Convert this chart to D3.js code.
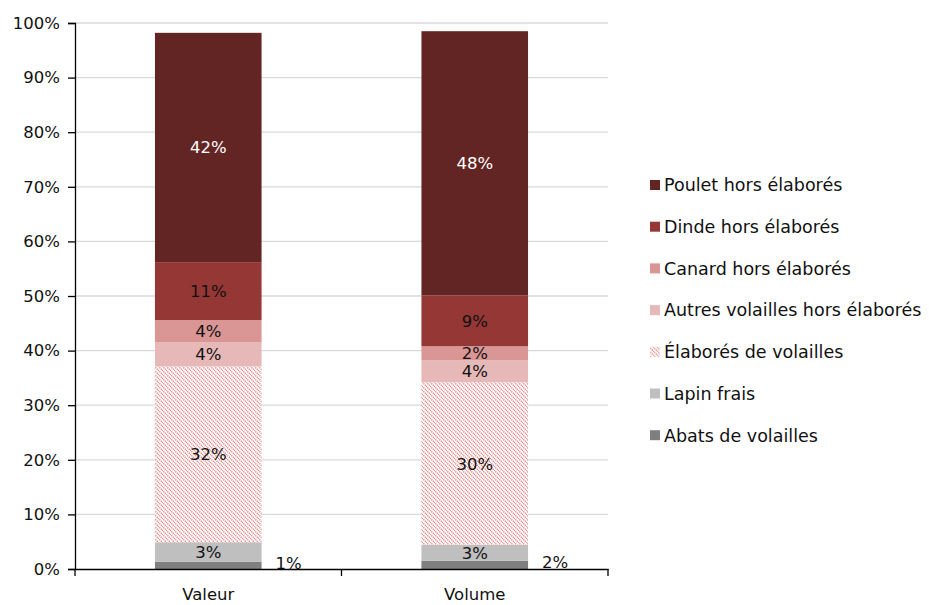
<!DOCTYPE html>
<html>
<head>
<meta charset="utf-8">
<script src="https://cdn.jsdelivr.net/npm/d3@7"></script>
<style>
  body { margin: 0; background: #fff; }
  text { font-family: "DejaVu Sans", sans-serif; }
</style>
</head>
<body>
<svg width="929" height="605"></svg>
<script>
const categories = ["Valeur", "Volume"]
const seriesNames = ["Abats de volailles", "Lapin frais", "Élaborés de volailles",
    "Autres volailles hors élaborés", "Canard hors élaborés", "Dinde hors élaborés", "Poulet hors élaborés"]
const valeur = [1.3, 3.6, 32.2, 4.4, 4.1, 10.6, 42.0]
const volume = [1.5, 2.9, 29.8, 4.0, 2.6, 9.3, 48.4]
const labelsValeur = ["1%", "3%", "32%", "4%", "4%", "11%", "42%"]
const labelsVolume = ["2%", "3%", "30%", "4%", "2%", "9%", "48%"]
const yTicks = [0, 10, 20, 30, 40, 50, 60, 70, 80, 90, 100]

const colors = ["#7f7f7f", "#bfbfbf", "url(#hatch)", "#e6b9b8", "#d99694", "#953735", "#632523"]

const svg = d3.select("svg")
const margin = {left: 75, right: 321, top: 23, bottom: 36}
const width = 929 - margin.left - margin.right
const height = 605 - margin.top - margin.bottom

// hatch pattern for "Élaborés"
const defs = svg.append("defs")
const pat = defs.append("pattern")
    .attr("id", "hatch")
    .attr("patternUnits", "userSpaceOnUse")
    .attr("width", 4).attr("height", 4)
pat.append("rect").attr("width", 4).attr("height", 4).attr("fill", "#fff")
pat.append("path")
    .attr("d", "M-1,-1 L5,5 M-1,3 L1,5 M3,-1 L5,1")
    .attr("stroke", "#e27c7c")
    .attr("stroke-width", 1.3)
    .attr("stroke-dasharray", "1.2,0.8")

const g = svg.append("g").attr("transform", `translate(${margin.left},${margin.top})`)

const x = d3.scaleBand().domain(categories).range([0, width]).paddingInner(0.6).paddingOuter(0.3)
const y = d3.scaleLinear().domain([0, 100]).range([height, 0])

// grid
g.append("g").selectAll("line")
    .data(yTicks.slice(1))
    .enter().append("line")
    .attr("x1", 0).attr("x2", width)
    .attr("y1", d => y(d)).attr("y2", d => y(d))
    .attr("stroke", "#d9d9d9").attr("stroke-width", 1.3)

const rows = categories.map((c, i) => {
    const vals = i === 0 ? valeur : volume
    const labs = i === 0 ? labelsValeur : labelsVolume
    let acc = 0
    return vals.map((v, k) => {
        const seg = {cat: c, k: k, y0: acc, y1: acc + v, label: labs[k]}
        acc += v
        return seg
    })
}).flat()

g.append("g").selectAll("rect")
    .data(rows)
    .enter().append("rect")
    .attr("x", d => x(d.cat))
    .attr("width", x.bandwidth())
    .attr("y", d => y(d.y1))
    .attr("height", d => y(d.y0) - y(d.y1))
    .attr("fill", d => colors[d.k])

g.append("g").selectAll("text")
    .data(rows)
    .enter().append("text")
    .attr("x", d => d.k === 0 ? x(d.cat) + x.bandwidth() + 27 : x(d.cat) + x.bandwidth() / 2)
    .attr("y", d => d.k === 0 ? y(d.y1) + 1 : y((d.y0 + d.y1) / 2))
    .attr("dy", "0.36em")
    .attr("text-anchor", "middle")
    .attr("fill", d => d.k === 6 ? "#fff" : "#111")
    .style("font-size", "16.5px")
    .text(d => d.label)

// axes
const yAxis = g.append("g")
    .call(d3.axisLeft(y).tickValues(yTicks).tickFormat(d => d + "%").tickSize(7).tickPadding(8))
yAxis.select(".domain").attr("stroke", "#000").attr("stroke-width", 1.3)
yAxis.selectAll("text").style("font-size", "16.5px").attr("fill", "#111")
yAxis.selectAll(".tick line").attr("stroke", "#000").attr("stroke-width", 1.3)

const xAxis = g.append("g")
    .attr("transform", `translate(0,${height})`)
    .call(d3.axisBottom(x).tickSize(0).tickPadding(19))
xAxis.select(".domain").attr("stroke", "#000").attr("stroke-width", 1.3)
xAxis.selectAll("text").style("font-size", "16.5px").attr("fill", "#111")
// category separators on x axis
xAxis.selectAll(".sep")
    .data([0, width / 2, width])
    .enter().append("line")
    .attr("x1", d => d).attr("x2", d => d)
    .attr("y1", 0).attr("y2", 7)
    .attr("stroke", "#000").attr("stroke-width", 1.3)

// legend
const legend = svg.append("g").attr("transform", "translate(650,185)")
const legendOrder = d3.range(seriesNames.length).reverse()
const item = legend.selectAll("g")
    .data(legendOrder)
    .enter().append("g")
    .attr("transform", (d, i) => `translate(0,${i * 41.7})`)
item.append("rect")
    .attr("x", 0).attr("y", -5)
    .attr("width", 10).attr("height", 10)
    .attr("fill", d => colors[d])
item.append("text")
    .attr("x", 14).attr("dy", "0.36em")
    .style("font-size", "17.5px")
    .attr("fill", "#111")
    .text(d => seriesNames[d])
</script>
</body>
</html>
